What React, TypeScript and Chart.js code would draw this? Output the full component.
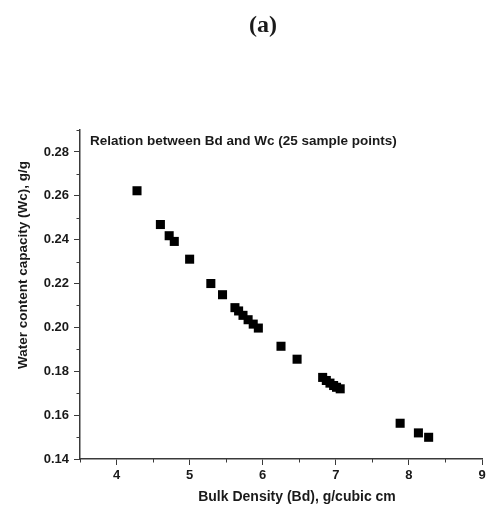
import React, { useEffect, useRef } from "react";
import { Chart, registerables } from "chart.js";

Chart.register(...registerables);

const figureLabel = "(a)";
const innerTitle = "Relation between Bd and Wc (25 sample points)";
const xTitle = "Bulk Density (Bd), g/cubic cm";
const yTitle = "Water content capacity (Wc), g/g";

const bulkDensity = [
  4.28, 4.6, 4.72, 4.79, 5.0, 5.29, 5.45, 5.62, 5.67, 5.73, 5.8, 5.87, 5.94,
  6.25, 6.47, 6.82, 6.87, 6.92, 6.97, 7.01, 7.06, 7.88, 8.13, 8.27,
];
const waterContent = [
  0.2623, 0.2469, 0.2418, 0.2392, 0.2311, 0.22, 0.2149, 0.209, 0.2075, 0.2055,
  0.2035, 0.2015, 0.1997, 0.1914, 0.1855, 0.1772, 0.1758, 0.1746, 0.1735,
  0.1727, 0.172, 0.1563, 0.1519, 0.1499,
];

const xMin = 3.5;
const xMax = 9;
const xStep = 0.5;
const yMin = 0.14;
const yMax = 0.29;
const yStep = 0.01;

const AXIS_COLOR = "#3a3a3a";
const TEXT_COLOR = "#1a1a1a";

export default function App() {
  const canvasRef = useRef<HTMLCanvasElement | null>(null);

  useEffect(() => {
    if (!canvasRef.current) return;

    const isMajorX = (v: number) => Math.abs(v - Math.round(v)) < 1e-6;
    const isMajorY = (v: number) => Math.round(v * 100) % 2 === 0;

    const textPlugin = {
      id: "textPlugin",
      afterDraw(chart: any) {
        const ctx = chart.ctx;
        const xs = chart.scales.x;
        const ys = chart.scales.y;
        const area = chart.chartArea;
        ctx.save();
        // minor ticks
        ctx.strokeStyle = AXIS_COLOR;
        ctx.lineWidth = 1;
        for (let v = xMin; v <= xMax + 1e-9; v += xStep) {
          if (isMajorX(v)) continue;
          const px = Math.round(xs.getPixelForValue(v)) + 0.5;
          ctx.beginPath();
          ctx.moveTo(px, area.bottom);
          ctx.lineTo(px, area.bottom + 3.5);
          ctx.stroke();
        }
        for (let i = 0; i <= Math.round((yMax - yMin) / yStep); i++) {
          const v = yMin + i * yStep;
          if (isMajorY(v)) continue;
          const py = Math.round(ys.getPixelForValue(v)) + 0.5;
          ctx.beginPath();
          ctx.moveTo(area.left, py);
          ctx.lineTo(area.left - 3.5, py);
          ctx.stroke();
        }
        // texts
        ctx.fillStyle = TEXT_COLOR;
        ctx.textBaseline = "middle";
        ctx.textAlign = "center";
        ctx.font = "bold 24px 'Liberation Serif', 'Times New Roman', serif";
        ctx.fillText(figureLabel, 263, 26);

        ctx.textAlign = "left";
        ctx.font = "bold 13.5px 'Liberation Sans', Arial, sans-serif";
        ctx.fillText(innerTitle, 90, 141);

        ctx.textAlign = "center";
        ctx.font = "bold 14px 'Liberation Sans', Arial, sans-serif";
        ctx.fillText(xTitle, 297, 497);

        ctx.font = "bold 13.5px 'Liberation Sans', Arial, sans-serif";
        ctx.translate(23, 265);
        ctx.rotate(-Math.PI / 2);
        ctx.fillText(yTitle, 0, 0);
        ctx.restore();
      },
    };

    const chart = new Chart(canvasRef.current, {
      type: "scatter",
      data: {
        datasets: [
          {
            label: "Wc vs Bd",
            data: bulkDensity.map((x, i) => ({ x, y: waterContent[i] })),
            pointStyle: "rect",
            pointRadius: 6.4,
            pointBackgroundColor: "#000",
            pointBorderColor: "#000",
            pointBorderWidth: 0,
          },
        ],
      },
      options: {
        animation: false,
        responsive: false,
        layout: { padding: { left: 0, top: 130, right: 8, bottom: 0 } },
        plugins: {
          legend: { display: false },
          tooltip: { enabled: false },
          title: { display: false },
        },
        scales: {
          x: {
            type: "linear",
            min: xMin,
            max: xMax,
            afterFit: (s: any) => {
              s.height = 47;
            },
            ticks: {
              stepSize: xStep,
              autoSkip: false,
              maxRotation: 0,
              padding: 3,
              color: TEXT_COLOR,
              font: { family: "'Liberation Sans', Arial, sans-serif", size: 13, weight: "bold" },
              callback: (v: any) => (isMajorX(Number(v)) ? String(Math.round(Number(v))) : ""),
            },
            grid: {
              drawOnChartArea: false,
              drawTicks: true,
              tickLength: 6,
              tickWidth: 1,
              tickColor: (c: any) =>
                c.tick && isMajorX(c.tick.value) ? AXIS_COLOR : "rgba(0,0,0,0)",
            },
            border: { display: true, color: AXIS_COLOR, width: 1.5 },
          },
          y: {
            type: "linear",
            min: yMin,
            max: yMax,
            afterFit: (s: any) => {
              s.width = 80;
            },
            ticks: {
              stepSize: yStep,
              autoSkip: false,
              padding: 5,
              color: TEXT_COLOR,
              font: { family: "'Liberation Sans', Arial, sans-serif", size: 13, weight: "bold" },
              callback: (v: any) => (isMajorY(Number(v)) ? Number(v).toFixed(2) : ""),
            },
            grid: {
              drawOnChartArea: false,
              drawTicks: true,
              tickLength: 6,
              tickWidth: 1,
              tickColor: (c: any) =>
                c.tick && isMajorY(c.tick.value) ? AXIS_COLOR : "rgba(0,0,0,0)",
            },
            border: { display: true, color: AXIS_COLOR, width: 1.5 },
          },
        },
      },
      plugins: [textPlugin],
    });

    return () => chart.destroy();
  }, []);

  return (
    <div style={{ position: "absolute", left: 0, top: 0, width: 490, height: 506, background: "#fff" }}>
      <canvas ref={canvasRef} width={490} height={506} style={{ display: "block" }} />
    </div>
  );
}
